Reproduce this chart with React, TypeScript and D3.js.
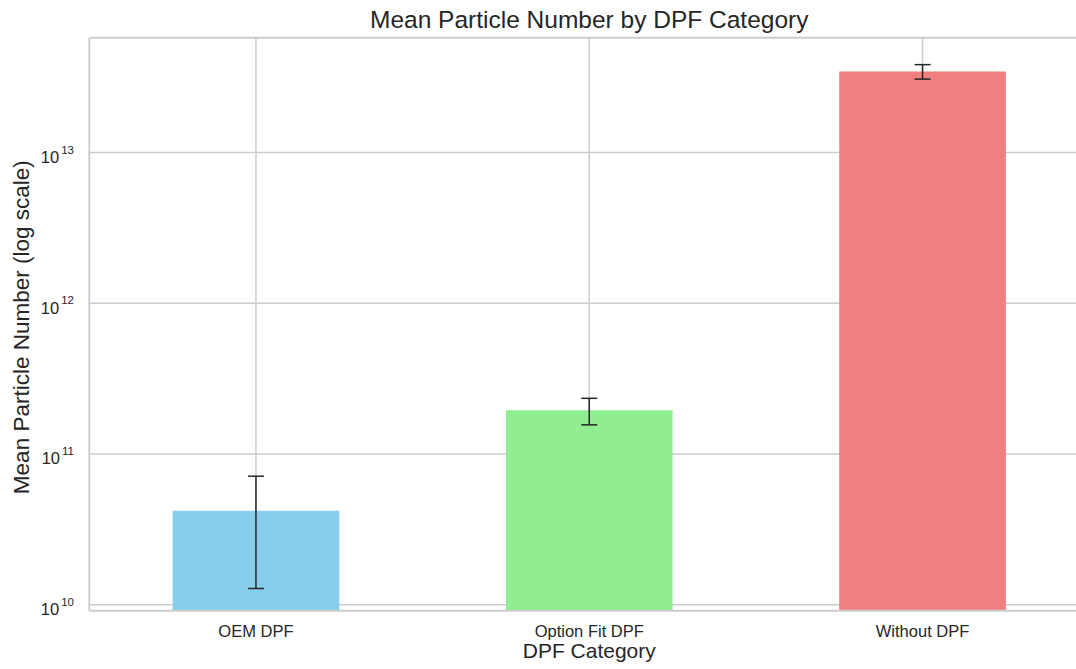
import { useRef, useEffect } from 'react';
import * as d3 from 'd3';

const categories = ['OEM DPF', 'Option Fit DPF', 'Without DPF'];
const meanValues = [4.2e10, 1.95e11, 3.45e13];
const errValues = [2.92e10, 0.39e11, 0.38e13];
const barColors = ['#87CEEB', '#90EE90', '#F08080'];
const yTickExponents = [10, 11, 12, 13];

const WIDTH = 1076;
const HEIGHT = 669;

/**
 * Log-scale bar chart of mean particle number per DPF category, with error bars
 */
export default function App() {
  const svgRef = useRef<SVGSVGElement>(null);

  useEffect(() => {
    if (!svgRef.current) return;
    document.body.style.margin = '0';

    const svg = d3.select(svgRef.current);
    svg.selectAll('*').remove();
    svg.attr('width', WIDTH).attr('height', HEIGHT);

    const font = '"Liberation Sans", Arial, sans-serif';
    const textColor = '#262626';
    const gridColor = '#cccccc';

    // axes box (right side runs past the picture edge)
    const left = 89.3;
    const right = 1089.2;
    const top = 37.7;
    const bottom = 610.7;

    const xScale = d3
      .scaleBand()
      .domain(categories)
      .range([left, right])
      .paddingInner(0.5)
      .paddingOuter(0.25);

    const yScale = d3
      .scaleLog()
      .domain([Math.pow(10, 9.96), Math.pow(10, 13.762)])
      .range([bottom, top]);

    const data = categories.map((c, i) => ({
      label: c,
      value: meanValues[i],
      err: errValues[i],
      color: barColors[i],
    }));

    // Grid lines
    const grid = svg.append('g');
    grid
      .selectAll('.ygrid')
      .data(yTickExponents)
      .join('line')
      .attr('x1', left)
      .attr('x2', right)
      .attr('y1', (e) => yScale(Math.pow(10, e)))
      .attr('y2', (e) => yScale(Math.pow(10, e)))
      .attr('stroke', gridColor)
      .attr('stroke-width', 1.5);

    grid
      .selectAll('.xgrid')
      .data(categories)
      .join('line')
      .attr('x1', (d) => (xScale(d) || 0) + xScale.bandwidth() / 2)
      .attr('x2', (d) => (xScale(d) || 0) + xScale.bandwidth() / 2)
      .attr('y1', top)
      .attr('y2', bottom)
      .attr('stroke', gridColor)
      .attr('stroke-width', 1.5);

    // Bars
    svg
      .append('g')
      .selectAll('rect')
      .data(data)
      .join('rect')
      .attr('x', (d) => xScale(d.label) || 0)
      .attr('width', xScale.bandwidth())
      .attr('y', (d) => yScale(d.value))
      .attr('height', (d) => bottom - yScale(d.value))
      .attr('fill', (d) => d.color);

    // Spines
    const spines = svg.append('g').attr('stroke', gridColor).attr('stroke-width', 1.9);
    spines.append('line').attr('x1', left).attr('x2', left).attr('y1', top).attr('y2', bottom);
    spines.append('line').attr('x1', left).attr('x2', right).attr('y1', top).attr('y2', top);
    spines.append('line').attr('x1', left).attr('x2', right).attr('y1', bottom).attr('y2', bottom);

    // Error bars
    const errG = svg
      .append('g')
      .attr('stroke', '#262626')
      .attr('stroke-width', 1.5);
    const cx = (d: { label: string }) => (xScale(d.label) || 0) + xScale.bandwidth() / 2;
    const capHalf = 8;

    errG
      .selectAll('.stem')
      .data(data)
      .join('line')
      .attr('x1', cx)
      .attr('x2', cx)
      .attr('y1', (d) => yScale(d.value + d.err))
      .attr('y2', (d) => yScale(d.value - d.err));

    errG
      .selectAll('.capTop')
      .data(data)
      .join('line')
      .attr('x1', (d) => cx(d) - capHalf)
      .attr('x2', (d) => cx(d) + capHalf)
      .attr('y1', (d) => yScale(d.value + d.err))
      .attr('y2', (d) => yScale(d.value + d.err));

    errG
      .selectAll('.capBottom')
      .data(data)
      .join('line')
      .attr('x1', (d) => cx(d) - capHalf)
      .attr('x2', (d) => cx(d) + capHalf)
      .attr('y1', (d) => yScale(d.value - d.err))
      .attr('y2', (d) => yScale(d.value - d.err));

    // Y tick labels: 10 with superscript exponent
    const yLabels = svg
      .append('g')
      .selectAll('text')
      .data(yTickExponents)
      .join('text')
      .attr('x', 74)
      .attr('y', (e) => yScale(Math.pow(10, e)) + 10.5)
      .attr('text-anchor', 'end')
      .attr('fill', textColor)
      .attr('font-family', font)
      .attr('font-size', '16.5px');
    yLabels.append('tspan').text('10');
    yLabels
      .append('tspan')
      .attr('dy', -9.5)
      .attr('dx', 2)
      .attr('font-size', '11.5px')
      .text((e) => String(e));

    // X tick labels
    svg
      .append('g')
      .selectAll('text')
      .data(categories)
      .join('text')
      .attr('x', (d) => (xScale(d) || 0) + xScale.bandwidth() / 2)
      .attr('y', 637)
      .attr('text-anchor', 'middle')
      .attr('fill', textColor)
      .attr('font-family', font)
      .attr('font-size', '16.5px')
      .text((d) => d);

    // Title
    const midX = (left + right) / 2;
    svg
      .append('text')
      .attr('x', midX)
      .attr('y', 28)
      .attr('text-anchor', 'middle')
      .attr('fill', textColor)
      .attr('font-family', font)
      .attr('font-size', '24.5px')
      .text('Mean Particle Number by DPF Category');

    // Axis labels
    svg
      .append('text')
      .attr('x', midX)
      .attr('y', 658)
      .attr('text-anchor', 'middle')
      .attr('fill', textColor)
      .attr('font-family', font)
      .attr('font-size', '21px')
      .text('DPF Category');

    svg
      .append('text')
      .attr('transform', `translate(29,${(top + bottom) / 2 + 3}) rotate(-90)`)
      .attr('text-anchor', 'middle')
      .attr('fill', textColor)
      .attr('font-family', font)
      .attr('font-size', '22.5px')
      .text('Mean Particle Number (log scale)');
  }, []);

  return (
    <div style={{ width: WIDTH, height: HEIGHT, overflow: 'hidden' }}>
      <svg ref={svgRef} style={{ display: 'block' }} />
    </div>
  );
}
